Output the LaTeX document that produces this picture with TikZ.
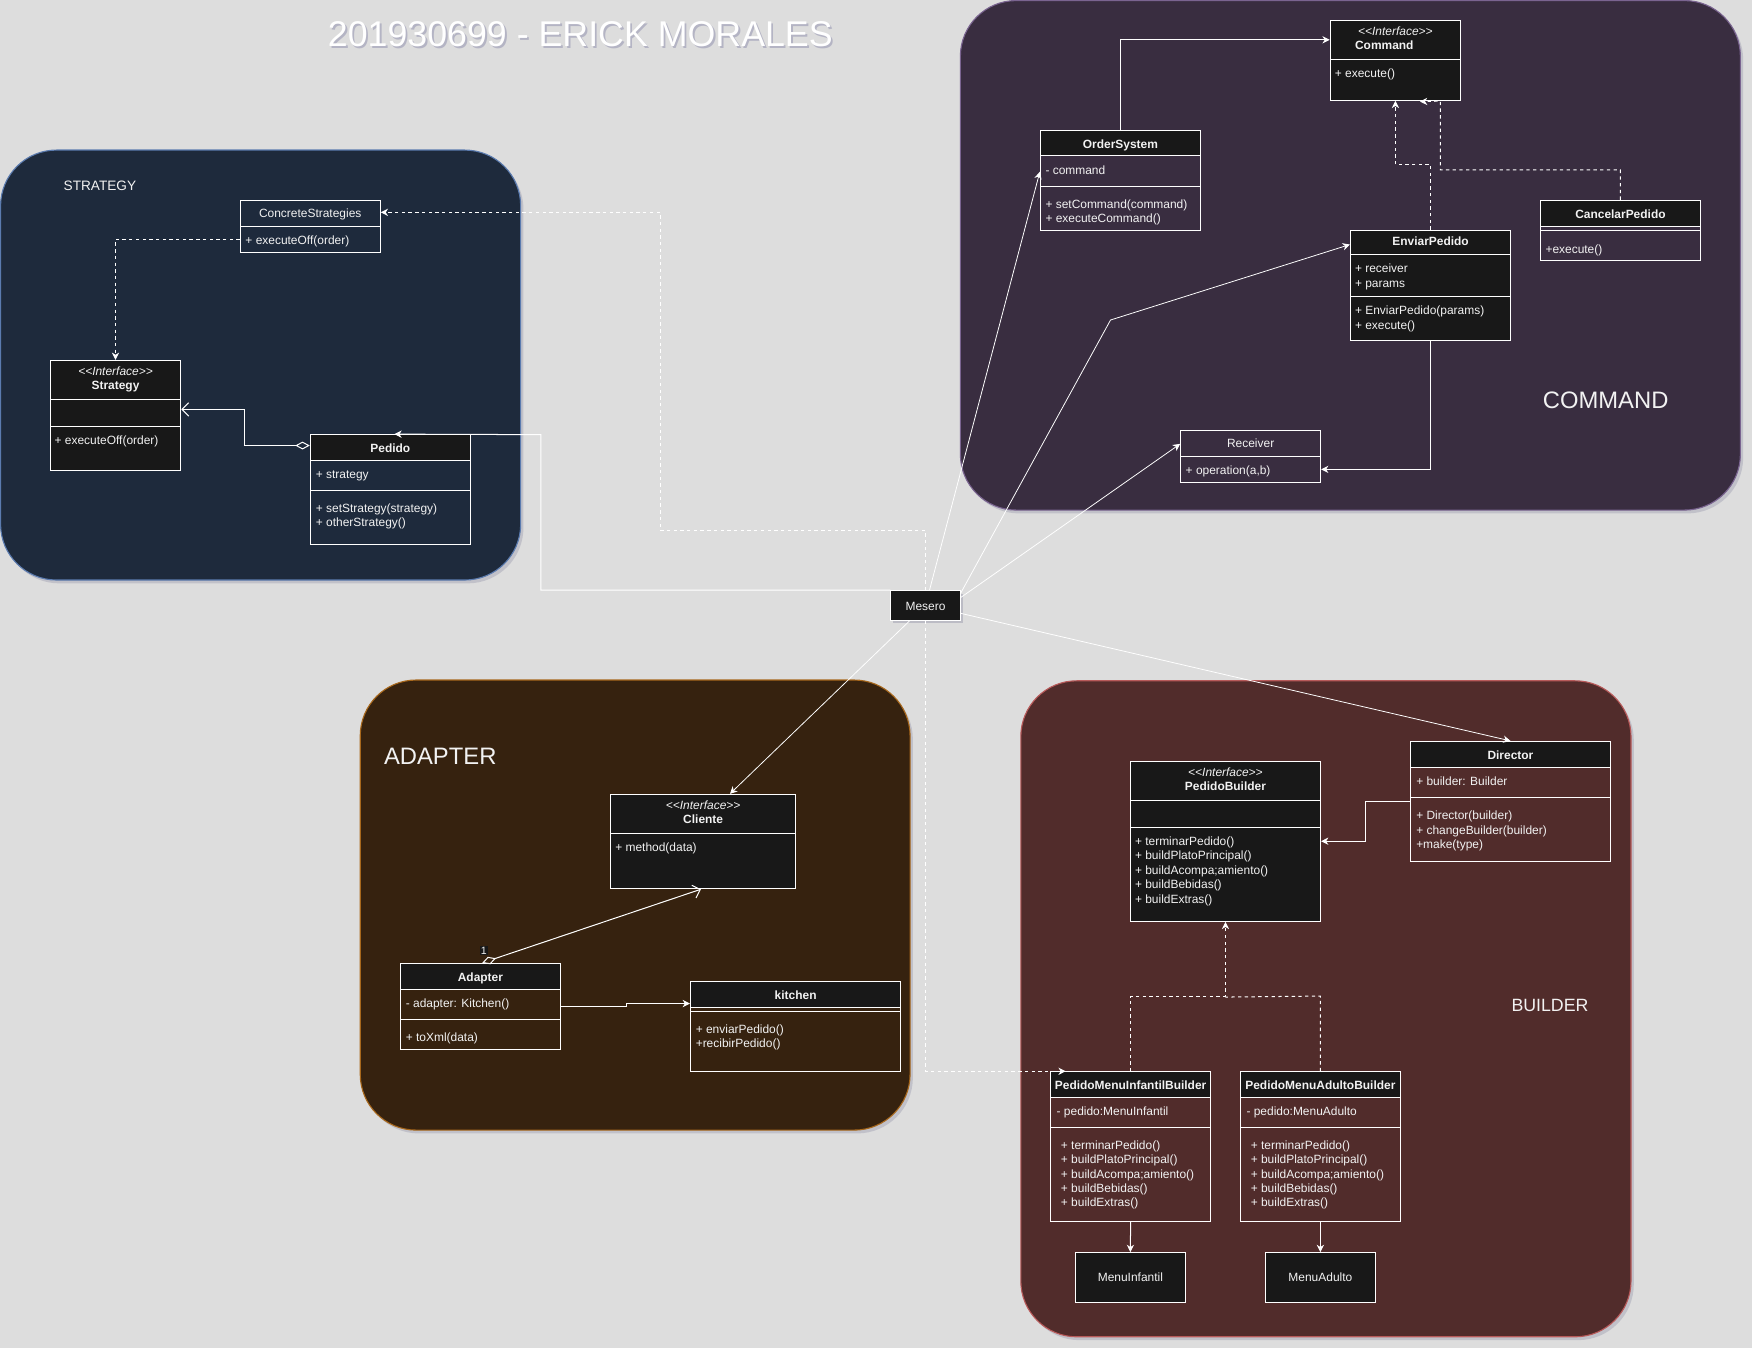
\documentclass[tikz,border=0pt]{standalone}
\usepackage{fontspec}
\setmainfont{Liberation Sans}
\usetikzlibrary{arrows.meta,calc,fit,shadows}
\definecolor{bg}{HTML}{DDDDDD}
\definecolor{stratf}{HTML}{1E2A3C}
\definecolor{stratb}{HTML}{5B7BAF}
\definecolor{cmdf}{HTML}{392D40}
\definecolor{cmdb}{HTML}{7A6490}
\definecolor{adaf}{HTML}{36220F}
\definecolor{adab}{HTML}{A8681C}
\definecolor{bldf}{HTML}{512C2B}
\definecolor{bldb}{HTML}{B85A5A}
\definecolor{boxdark}{HTML}{181818}
\definecolor{txtc}{HTML}{F2F2F2}
\definecolor{shadowc}{HTML}{707090}
\definecolor{titlesh}{HTML}{9A9AB4}
\newcommand\umlft{\fontsize{10.7}{13}\selectfont}
\newcommand\umlfb{\fontsize{10.7}{13}\selectfont\bfseries}
\newcommand\umlfi{\fontsize{10.7}{13}\selectfont\itshape}
\newcommand\lstereo{<\kern0pt<}
\newcommand\rstereo{>\kern0pt>}
\tikzset{
 cont/.style={draw, line width=1pt, rounded corners=50pt, inner sep=0pt,
   drop shadow={shadow xshift=2.5pt, shadow yshift=-3pt, opacity=0.25, fill=shadowc}},
 cbox/.style={draw=white, line width=0.9pt, inner sep=0pt},
 dbox/.style={cbox, fill=boxdark},
 hdr/.style={fill=boxdark},
 cline/.style={draw=white, line width=0.9pt},
 tl/.style={text=txtc, font=\umlft, anchor=west, inner sep=0pt, text height=9pt, text depth=0.6pt},
 tn/.style={tl, anchor=center},
 tb/.style={tn, font=\umlfb},
 ti/.style={tn, font=\umlfi},
 conn/.style={draw=white, line width=0.9pt},
 fan/.style={draw=white, line width=0.7pt},
 dsh/.style={conn, dash pattern=on 3pt off 3pt},
 arrw/.style={-{Stealth[length=6.5pt,width=6.5pt,inset=2pt]}},
 big/.style={text=txtc, inner sep=0pt},
 aggr/.style={{Diamond[open,length=13pt,width=7pt]}-{Straight Barb[length=6pt,width=12pt]}},
}
\begin{document}
\begin{tikzpicture}[x=1pt,y=-1pt]
\useasboundingbox (0,0) rectangle (1568,1206);
\fill[bg] (0,0) rectangle (1568,1206);

% title
\node[big, text=titlesh, opacity=0.6, font=\fontsize{32}{38}\selectfont] (title-sh) at (521.1,32.7) {201930699 - ERICK MORALES};
\node[big, text=white, font=\fontsize{32}{38}\selectfont] (title) at (519.4,30.3) {201930699 - ERICK MORALES};

% containers
\node[cont, draw=stratb, fill=stratf, fit={(0.5,134.3)(466,519.1)}] (stratC) {};
\node[cont, draw=cmdb, fill=cmdf, fit={(859.5,0.5)(1557.6,456.5)}] (cmdC) {};
\node[cont, draw=adab, fill=adaf, fit={(322.4,608.6)(814.5,1011.4)}] (adaC) {};
\node[cont, draw=bldb, fill=bldf, fit={(913.6,609.3)(1459.7,1196.4)}] (bldC) {};

\node[big, font=\fontsize{12.2}{14}\selectfont] (stratL) at (89.4,166.2) {STRATEGY};
\node[big, font=\fontsize{21.3}{25}\selectfont] (cmdL) at (1437,358) {COMMAND};
\node[big, font=\fontsize{21.3}{25}\selectfont] (adaL) at (394,676.6) {ADAPTER};
\node[big, font=\fontsize{15.9}{19}\selectfont] (bldL) at (1387.2,900) {BUILDER};

% ===== STRATEGY =====
\node[cbox, fit={(215,179.3)(340.3,225.8)}] (cs) {};
\draw[cline] (215,202.6) -- (340.3,202.6);
\node[tn] (cs-n) at (277.65,190.7) {ConcreteStrategies};
\node[tl] (cs-m1) at (219.5,214.2) {+ executeOff(order)};

\node[dbox, fit={(45,322.5)(161.8,421)}] (strat) {};
\draw[cline] (45,357.4) -- (161.8,357.4);
\draw[cline] (45,381.3) -- (161.8,381.3);
\node[ti] (strat-s) at (103.4,331.8) {\lstereo Interface\rstereo};
\node[tb] (strat-n) at (103.4,344.6) {Strategy};
\node[tl] (strat-m1) at (48.7,393.8) {+ executeOff(order)};

\fill[hdr] (277.7,389) rectangle (421,412);
\node[cbox, fit={(277.7,389)(421,487.2)}] (ped) {};
\draw[cline] (277.7,412) -- (421,412);
\draw[cline] (277.7,438.9) -- (421,438.9);
\node[tb] (ped-n) at (349.35,400.7) {Pedido};
\node[tl] (ped-a1) at (282.5,424) {+ strategy};
\node[tl] (ped-m1) at (282.5,454.4) {+ setStrategy(strategy)};
\node[tl] (ped-m2) at (282.5,466.9) {+ otherStrategy()};

% ===== COMMAND =====
\node[dbox, fit={(1190.5,18.2)(1307.2,89.8)}] (cmd) {};
\draw[cline] (1190.5,53.1) -- (1307.2,53.1);
\node[ti] (cmd-s) at (1248.85,27.7) {\lstereo Interface\rstereo};
\node[tb] (cmd-n) at (1238.9,40) {Command};
\node[tl] (cmd-m1) at (1194.5,65) {+ execute()};

\fill[hdr] (931.1,116.7) rectangle (1074.4,139.6);
\node[cbox, fit={(931.1,116.7)(1074.4,205.9)}] (os) {};
\draw[cline] (931.1,139.6) -- (1074.4,139.6);
\draw[cline] (931.1,166.8) -- (1074.4,166.8);
\node[tb] (os-n) at (1002.75,128.6) {OrderSystem};
\node[tl] (os-a1) at (935.5,151.9) {- command};
\node[tl] (os-m1) at (935.5,182.3) {+ setCommand(command)};
\node[tl] (os-m2) at (935.5,194.8) {+ executeCommand()};

\node[dbox, fit={(1208.6,206.1)(1352,304.6)}] (ep) {};
\draw[cline] (1208.6,227.6) -- (1352,227.6);
\draw[cline] (1208.6,265.2) -- (1352,265.2);
\node[tb] (ep-n) at (1280.3,215.4) {EnviarPedido};
\node[tl] (ep-a1) at (1212.5,239.6) {+ receiver};
\node[tl] (ep-a2) at (1212.5,253.3) {+ params};
\node[tl] (ep-m1) at (1212.5,277.5) {+ EnviarPedido(params)};
\node[tl] (ep-m2) at (1212.5,290.9) {+ execute()};

\fill[hdr] (1378.6,179.3) rectangle (1521.9,202.3);
\node[cbox, fit={(1378.6,179.3)(1521.9,233)}] (cp) {};
\draw[cline] (1378.6,202.3) -- (1521.9,202.3);
\draw[cline] (1378.6,205.9) -- (1521.9,205.9);
\node[tb] (cp-n) at (1450.25,191.2) {CancelarPedido};
\node[tl] (cp-m1) at (1383,222.3) {+execute()};

\node[cbox, fit={(1056.7,385.2)(1181.9,431.7)}] (rec) {};
\draw[cline] (1056.7,408.4) -- (1181.9,408.4);
\node[tn] (rec-n) at (1119.3,396.4) {Receiver};
\node[tl] (rec-m1) at (1061,420.7) {+ operation(a,b)};

% ===== MESERO =====
\node[dbox, drop shadow={shadow xshift=2pt, shadow yshift=-2.5pt, opacity=0.3, fill=shadowc}, fit={(797.2,528.7)(859.5,555.2)}] (mesero) {};
\node[tn] (mesero-n) at (828.35,541.9) {Mesero};

% ===== ADAPTER =====
\node[dbox, fit={(546.3,710.9)(712.3,795.4)}] (cli) {};
\draw[cline] (546.3,745.9) -- (712.3,745.9);
\node[ti] (cli-s) at (629.3,720.2) {\lstereo Interface\rstereo};
\node[tb] (cli-n) at (629.3,732.7) {Cliente};
\node[tl] (cli-m1) at (550.5,758.1) {+ method(data)};

\fill[hdr] (358.2,862.2) rectangle (501.7,885.5);
\node[cbox, fit={(358.2,862.2)(501.7,939.2)}] (ada) {};
\draw[cline] (358.2,885.5) -- (501.7,885.5);
\draw[cline] (358.2,912.3) -- (501.7,912.3);
\node[tb] (ada-n) at (429.95,874.1) {Adapter};
\node[tl] (ada-a1) at (363,897.4) {- adapter: Kitchen()};
\node[tl] (ada-m1) at (363,927.8) {+ toXml(data)};

\fill[hdr] (617.9,878.6) rectangle (806.3,901.6);
\node[cbox, fit={(617.9,878.6)(806.3,958.9)}] (kit) {};
\draw[cline] (617.9,901.6) -- (806.3,901.6);
\draw[cline] (617.9,905.2) -- (806.3,905.2);
\node[tb] (kit-n) at (712.1,890.2) {kitchen};
\node[tl] (kit-m1) at (622.5,921) {+ enviarPedido()};
\node[tl] (kit-m2) at (622.5,933.2) {+recibirPedido()};

% ===== BUILDER =====
\node[dbox, fit={(1011.6,681.1)(1181.9,824.6)}] (pb) {};
\draw[cline] (1011.6,716.3) -- (1181.9,716.3);
\draw[cline] (1011.6,740.8) -- (1181.9,740.8);
\node[ti] (pb-s) at (1096.75,690.7) {\lstereo Interface\rstereo};
\node[tb] (pb-n) at (1096.75,703) {PedidoBuilder};
\node[tl] (pb-m1) at (1015.6,752.4) {+ terminarPedido()};
\node[tl] (pb-m2) at (1015.6,765.3) {+ buildPlatoPrincipal()};
\node[tl] (pb-m3) at (1015.6,778.2) {+ buildAcompa;amiento()};
\node[tl] (pb-m4) at (1015.6,791.1) {+ buildBebidas()};
\node[tl] (pb-m5) at (1015.6,804) {+ buildExtras()};

\fill[hdr] (1262.3,663.5) rectangle (1441.3,686.9);
\node[cbox, fit={(1262.3,663.5)(1441.3,770.6)}] (dir) {};
\draw[cline] (1262.3,686.9) -- (1441.3,686.9);
\draw[cline] (1262.3,713.7) -- (1441.3,713.7);
\node[tb] (dir-n) at (1351.8,675.4) {Director};
\node[tl] (dir-a1) at (1267.3,698.7) {+ builder: Builder};
\node[tl] (dir-m1) at (1267.3,729.6) {+ Director(builder)};
\node[tl] (dir-m2) at (1267.3,742.3) {+ changeBuilder(builder)};
\node[tl] (dir-m3) at (1267.3,755) {+make(type)};

\fill[hdr] (940.2,959.2) rectangle (1083.5,982.2);
\node[cbox, fit={(940.2,959.2)(1083.5,1093.1)}] (pmib) {};
\draw[cline] (940.2,982.2) -- (1083.5,982.2);
\draw[cline] (940.2,1009.3) -- (1083.5,1009.3);
\node[tb] (pmib-n) at (1011.85,970.6) {PedidoMenuInfantilBuilder};
\node[tl] (pmib-a1) at (945.5,994) {- pedido:MenuInfantil};
\node[tl] (pmib-m1) at (949.3,1024.6) {+ terminarPedido()};
\node[tl] (pmib-m2) at (949.3,1037.4) {+ buildPlatoPrincipal()};
\node[tl] (pmib-m3) at (949.3,1050.2) {+ buildAcompa;amiento()};
\node[tl] (pmib-m4) at (949.3,1063) {+ buildBebidas()};
\node[tl] (pmib-m5) at (949.3,1075.8) {+ buildExtras()};

\fill[hdr] (1110,959.2) rectangle (1253.4,982.2);
\node[cbox, fit={(1110,959.2)(1253.4,1093.1)}] (pmab) {};
\draw[cline] (1110,982.2) -- (1253.4,982.2);
\draw[cline] (1110,1009.3) -- (1253.4,1009.3);
\node[tb] (pmab-n) at (1181.7,970.6) {PedidoMenuAdultoBuilder};
\node[tl] (pmab-a1) at (1115.4,994) {- pedido:MenuAdulto};
\node[tl] (pmab-m1) at (1119.2,1024.6) {+ terminarPedido()};
\node[tl] (pmab-m2) at (1119.2,1037.4) {+ buildPlatoPrincipal()};
\node[tl] (pmab-m3) at (1119.2,1050.2) {+ buildAcompa;amiento()};
\node[tl] (pmab-m4) at (1119.2,1063) {+ buildBebidas()};
\node[tl] (pmab-m5) at (1119.2,1075.8) {+ buildExtras()};

\node[dbox, fit={(962.5,1121)(1060.8,1165.3)}] (mi) {};
\node[tn] (mi-n) at (1011.65,1143) {MenuInfantil};
\node[dbox, fit={(1132.7,1121)(1230.7,1165.3)}] (ma) {};
\node[tn] (ma-n) at (1181.7,1143) {MenuAdulto};

% ===== CONNECTORS =====
% strategy
\draw[dsh, arrw] ($(cs.west)+(0,11.6)$) -| (strat.north);
\draw[conn, aggr] ($(ped.north west)+(0,10.2)$) -- ++(-58.2,0) |- ($(strat.east)+(0,-5.3)$);
% mesero -> strategy
\draw[conn, arrw] (mesero.north west) -| (484,389) -- ($(ped.north)+(3.6,0)$);
\draw[dsh, arrw] (mesero.north) |- (591,474.7) |- ($(cs.north east)+(0,11.2)$);
% mesero -> builder (dashed)
\draw[dsh, arrw] (mesero.south) |- ($(pmib.north west)+(14,0)$);
% command
\draw[conn, arrw] (os.north) |- ($(cmd.north west)+(0,17.9)$);
\draw[dsh, arrw] (ep.north) -- ++(0,-58.4) -| (cmd.south);
\draw[dsh, arrw] (cp.north) -- ++(0,-26.8) -| (1289,90.5) -- ($(cmd.south)+(22,0.7)$);
\draw[conn, arrw] (ep.south) |- ($(rec.east)+(0,11.6)$);
% mesero fan
\draw[fan, arrw] ($(mesero.north)+(3.5,0)$) -- ($(os.west)+(0,-7.6)$);
\draw[fan, arrw] ($(mesero.north east)+(0,2.3)$) -- (993.9,286.4) -- ($(ep.north west)+(0,13.2)$);
\draw[fan, arrw] ($(mesero.east)+(0,-7.3)$) -- ($(rec.north west)+(0,12.5)$);
\draw[fan, arrw] ($(mesero.east)+(0,7)$) -- (dir.north);
\draw[fan, arrw] ($(mesero.south west)+(17.3,0)$) -- ($(cli.north)+(24,0)$);
% adapter
\draw[conn, aggr] ($(ada.north west)+(73.8,0)$) -- ($(cli.south)+(-2,0)$);
\node[fill=boxdark, text=txtc, inner sep=0.8pt, font=\fontsize{9.5}{11}\selectfont] (ada-one) at (433,851) {1};
\draw[conn, arrw] (ada.east) -- ++(58.3,0) |- ($(kit.north west)+(0,20)$);
% builder
\draw[conn, arrw] ($(dir.north west)+(0,54)$) -- ++(-40,0) |- (pb.east);
\draw[dsh, arrw] (pmib.north) -- ++(0,-67.3) -| (pb.south);
\draw[dsh] (pmab.north) -- ++(0,-67.3) -- ($(pb.south)+(0,67.3)$);
\draw[conn, arrw] (pmib.south) -- (mi.north);
\draw[conn, arrw] (pmab.south) -- (ma.north);
\end{tikzpicture}
\end{document}
